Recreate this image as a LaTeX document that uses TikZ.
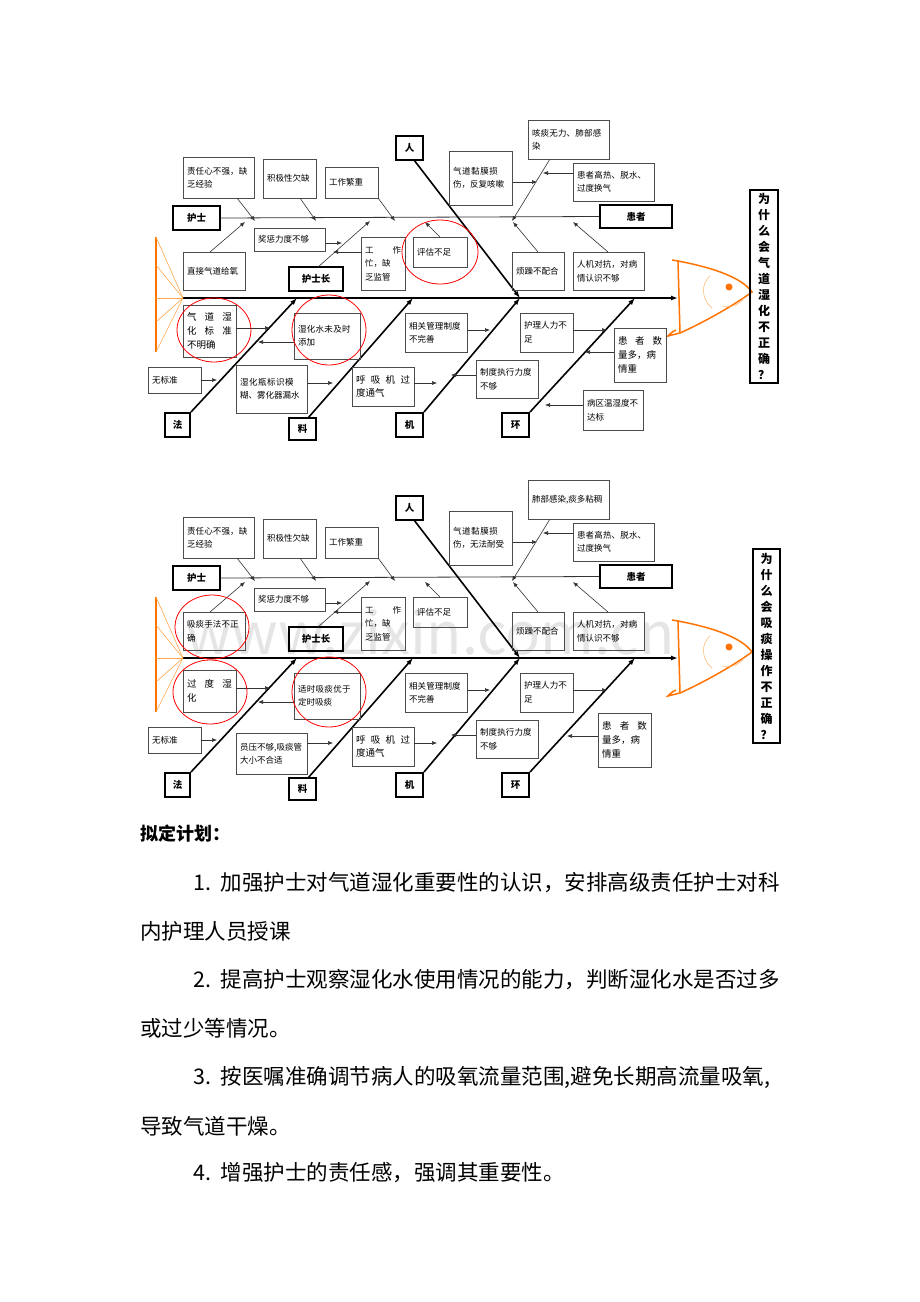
\documentclass[tikz,border=0pt]{standalone}
\usepackage{fontspec}
\setmainfont{Noto Sans CJK SC}
\XeTeXlinebreaklocale "zh"
\XeTeXlinebreakskip=0pt plus 1pt
\usetikzlibrary{arrows.meta}
\tikzset{
 box/.style={draw=black!70,line width=0.6pt,inner sep=3pt,font=\fontsize{8.5}{13.5}\selectfont,align=left},
 kbox/.style={draw=black,line width=2pt,inner sep=0pt,font=\bfseries\fontsize{9.5}{11}\selectfont},
 bone/.style={line width=1.6pt,-{Latex[length=7pt,width=5pt]}},
 arr/.style={line width=0.6pt,black!80,-{Latex[length=5pt,width=4pt]}},
 fishc/.style={orange!90!red,line width=1.5pt},
 circ/.style={red,line width=0.8pt},
 para/.style={anchor=west,font=\fontsize{21.5}{24}\selectfont,inner sep=0pt}
}
\newcommand\bx[6]{%
 \pgfmathsetlengthmacro\bxw{(#4-#2)*1pt}%
 \pgfmathsetlengthmacro\bxh{(#5-#3)*1pt}%
 \pgfmathsetlengthmacro\bxt{(#4-#2-8)*1pt}%
 \node[box,minimum width=\bxw,minimum height=\bxh,text width=\bxt] (#1) at ({(#2+#4)/2},{(#3+#5)/2}) {#6};}
\newcommand\kb[6]{%
 \pgfmathsetlengthmacro\bxw{(#4-#2)*1pt}%
 \pgfmathsetlengthmacro\bxh{(#5-#3)*1pt}%
 \node[kbox,minimum width=\bxw,minimum height=\bxh] (#1) at ({(#2+#4)/2},{(#3+#5)/2}) {#6};}
\newcommand\fishcommon[1]{%
 \coordinate (#1tail) at (183,298); \coordinate (#1head) at (678,298);
 \draw[bone] (#1tail) -- (#1head);
 \draw[fishc] (156,237) -- (156,352);
 \foreach \yy in {237,265,298,322,352} \draw[orange!70,line width=0.6pt] (156,\yy) -- (#1tail);
 \draw[fishc] (678,261) -- (680,333);
 \draw[fishc] (672,260) -- (678,261) .. controls (715,268) and (742,278) .. (752,292) .. controls (730,308) and (700,324) .. (680,333) -- (668,336) .. controls (672,332) .. (676,330);
 \fill[orange!90!red] (729,287) circle (3.5);
 \draw[orange!60,line width=0.5pt] (710,276) .. controls (700,285) and (702,300) .. (712,308);
 \draw[orange!60,line width=0.5pt] (722,306) .. controls (732,308) and (740,304) .. (744,298);
 \kb{#1hs}{173}{206}{220}{230}{护士}
 \kb{#1hz}{600}{205}{672}{228}{患者}
 \kb{#1ren}{396}{136}{423}{160}{人}
 \kb{#1hsz}{289}{267}{343}{291}{护士长}
 \kb{#1fa}{165}{413}{190}{437}{法}
 \kb{#1liao}{289}{418}{316}{440}{料}
 \kb{#1ji}{396}{413}{423}{437}{机}
 \kb{#1huan}{502}{413}{529}{437}{环}
 \draw[line width=0.8pt,black!80] (#1hs.east) -- (#1hz.west);
 \draw[bone] (414,160) -- (520,298);
 \draw[arr] (318,267) -- (370,221);
 \draw[bone] (#1fa.north east) -- (297,298);
 \draw[bone] (308,418) -- (413,298);
 \draw[bone] (#1ji.north east) -- (520,298);
 \draw[bone] (#1huan.north east) -- (635,298);
 \bx{#1a1}{183}{157}{254}{198}{责任心不强，缺乏经验}
 \bx{#1a2}{263}{159}{316}{198}{积极性欠缺}
 \bx{#1a3}{325}{167}{378}{198}{工作繁重}
 \draw[arr] (237,198) -- (255,221);
 \draw[arr] (300,198) -- (316,221);
 \draw[arr] (#1a3.south east) -- (395,221);
 \bx{#1b1}{254}{228}{325}{251}{奖惩力度不够}
 \draw[arr] (#1b1.east |- 0,243) -- (342,243);
 \bx{#1b2}{361}{237}{405}{290}{工\hfill 作\\忙，缺\\乏监管}
 \draw[arr] (361,252) -- (333,252);
 \bx{#1b3}{413}{237}{467}{267}{评估不足}
 \draw[arr] (440,237) -- (425,222);
 \bx{#1p3}{573}{163}{654}{201}{患者高热、脱水、过度换气}
 \draw[arr] (550,159) -- (512,221);
 \draw[arr] (#1p3.west |- 0,173) -- (543,173);
 \draw[arr] (512,182) -- (537,182);
 \bx{#1p4}{512}{252}{564}{290}{烦躁不配合}
 \bx{#1p5}{573}{252}{644}{290}{人机对抗，对病情认识不够}
 \draw[arr] (538,252) -- (513,222);
 \draw[arr] (608,252) -- (573,222);
 \bx{#1l2}{148}{367}{201}{393}{无标准}
 \draw[arr] (#1l2.east) -- (217,380);
 \bx{#1m1}{352}{367}{414}{406}{\fontsize{9.5}{14}\selectfont 呼\hfill 吸\hfill 机\hfill 过\\度通气}
 \draw[arr] (414,383) -- (437,383);
 \bx{#1m2}{405}{313}{467}{352}{相关管理制度不完善}
 \draw[arr] (467,330) -- (490,330);
 \bx{#1m3}{476}{360}{538}{398}{制度执行力度不够}
 \draw[arr] (476,375) -- (451,375);
 \bx{#1e1}{520}{313}{573}{352}{护理人力不足}
 \draw[arr] (573,330) -- (607,330);
}
\begin{document}
\begin{tikzpicture}[x=1pt,y=-1pt]
\useasboundingbox (0,0) rectangle (920,1302);
\fill[white] (0,0) rectangle (920,1302);
\begin{scope}
\fishcommon{A}
\bx{Ap2}{449}{151}{512}{205}{气道黏膜损伤，反复咳嗽}
\bx{Ap1}{528}{120}{609}{159}{咳痰无力、肺部感染}
\bx{Ac1}{183}{252}{245}{290}{直接气道给氧}
\draw[arr] (210,252) -- (245,222);
\bx{Ac2}{183}{305}{236}{357}{\fontsize{9.5}{14}\selectfont 气\hfill 道\hfill 湿\\化\hfill 标\hfill 准\\不明确}
\draw[arr] (236,328) -- (270,328);
\bx{Ac3}{294}{313}{360}{359}{湿化水未及时添加}
\draw[arr] (294,342) -- (258,342);
\bx{Ac4}{236}{365}{307}{413}{湿化瓶标识模糊、雾化器漏水}
\draw[arr] (307,383) -- (333,383);
\bx{Ae2}{614}{328}{666}{382}{\fontsize{9.5}{14}\selectfont 患\hfill 者\hfill 数\\量多，病\\情重}
\draw[arr] (614,352) -- (585,352);
\bx{Ae3}{583}{390}{643}{430}{病区温湿度不达标}
\draw[arr] (583,405) -- (545,405);
\draw[circ] (440,252) ellipse (38 and 32);
\draw[circ] (214,330) ellipse (37 and 32);
\draw[circ] (329,330) ellipse (37 and 35);
\node[draw,line width=2pt,minimum width=28pt,minimum height=193pt,align=center,font=\bfseries\fontsize{12}{16}\selectfont,inner sep=0pt] (At) at (764,286.5) {为\\什\\么\\会\\气\\道\\湿\\化\\不\\正\\确\\？};
\end{scope}
\begin{scope}[yshift=-360pt]
\node[text=black!10,font=\fontsize{58}{60}\selectfont] (wm) at (430,272) {www.zixin.com.cn};
\fishcommon{B}
\bx{Bp2}{449}{151}{512}{205}{气道黏膜损伤，无法耐受}
\bx{Bp1}{528}{120}{609}{159}{肺部感染,痰多粘稠}
\bx{Bc1}{183}{252}{245}{290}{吸痰手法不正确}
\draw[arr] (210,252) -- (245,222);
\bx{Bc2}{183}{310}{236}{352}{\fontsize{9.5}{14}\selectfont 过\hfill 度\hfill 湿\\化}
\draw[arr] (236,328) -- (270,328);
\bx{Bc3}{294}{313}{360}{359}{适时吸痰优于定时吸痰}
\draw[arr] (294,342) -- (258,342);
\bx{Bc4}{236}{373}{307}{414}{员压不够,吸痰管大小不合适}
\draw[arr] (307,383) -- (333,383);
\bx{Be2}{598}{353}{651}{407}{\fontsize{9.5}{14}\selectfont 患\hfill 者\hfill 数\\量多，病\\情重}
\draw[arr] (598,376) -- (567,376);
\draw[circ] (212,267) ellipse (37 and 32);
\draw[circ] (210,332) ellipse (37 and 32);
\draw[circ] (329,332) ellipse (37 and 35);
\node[draw,line width=2pt,minimum width=27pt,minimum height=194pt,align=center,font=\bfseries\fontsize{12}{16}\selectfont,inner sep=0pt] (Bt) at (766.5,286) {为\\什\\么\\会\\吸\\痰\\操\\作\\不\\正\\确\\？};
\end{scope}
\node[para,font=\bfseries\fontsize{18}{22}\selectfont] (h) at (140,834) {拟定计划：};
\node[para] (l1) at (193,883) {1.\ \ 加强护士对气道湿化重要性的认识，安排高级责任护士对科};
\node[para] (l2) at (140,931) {内护理人员授课};
\node[para] (l3) at (193,980) {2.\ \ 提高护士观察湿化水使用情况的能力，判断湿化水是否过多};
\node[para] (l4) at (140,1028) {或过少等情况。};
\node[para] (l5) at (193,1077) {3.\ \ 按医嘱准确调节病人的吸氧流量范围,避免长期高流量吸氧,};
\node[para] (l6) at (140,1126) {导致气道干燥。};
\node[para] (l7) at (193,1173) {4.\ \ 增强护士的责任感，强调其重要性。};
\end{tikzpicture}
\end{document}
